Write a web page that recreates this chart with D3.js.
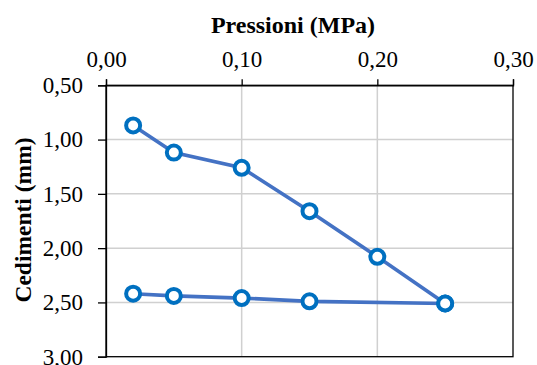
<!DOCTYPE html>
<html>
<head>
<meta charset="utf-8">
<script src="https://cdn.jsdelivr.net/npm/d3@7"></script>
<style>
  body { margin: 0; background: #fff; }
  svg text { font-family: "Liberation Serif", "Times New Roman", "DejaVu Serif", serif !important; }
</style>
</head>
<body>
<div id="chart"></div>
<script>
// data
var carico = [0.02, 0.05, 0.10, 0.15, 0.20, 0.25];
var cedCarico = [0.87, 1.12, 1.26, 1.66, 2.08, 2.51];
var scarico = [0.25, 0.15, 0.10, 0.05, 0.02];
var cedScarico = [2.51, 2.49, 2.46, 2.44, 2.42];
var xTicks = [0, 0.10, 0.20, 0.30];
var yTicks = [0.5, 1.0, 1.5, 2.0, 2.5, 3.0];

// set the dimensions
var W = 537, H = 365;
var margin = {top: 85.3, right: 24, bottom: 8.3, left: 106};
var width = W - margin.left - margin.right,
    height = H - margin.top - margin.bottom;

var fmt = function(d) { return d3.format(".2f")(d).replace(".", ","); };

var x = d3.scaleLinear().domain([0, 0.30]).range([0, width]);
var y = d3.scaleLinear().domain([0.5, 3.0]).range([0, height]);

var svg = d3.select("#chart").append("svg")
    .attr("width", W)
    .attr("height", H)
    .attr("font-family", "Liberation Serif, serif");

var g = svg.append("g")
    .attr("transform", "translate(" + margin.left + "," + margin.top + ")");

// gridlines
g.selectAll(".hgrid")
    .data(yTicks.slice(1, -1))
  .enter().append("line")
    .attr("x1", 0).attr("x2", width)
    .attr("y1", function(d) { return y(d); })
    .attr("y2", function(d) { return y(d); })
    .attr("stroke", "#d0d0d0")
    .attr("stroke-width", 1.5);

g.selectAll(".vgrid")
    .data(xTicks.slice(1, -1))
  .enter().append("line")
    .attr("y1", 0).attr("y2", height)
    .attr("x1", function(d) { return x(d); })
    .attr("x2", function(d) { return x(d); })
    .attr("stroke", "#d0d0d0")
    .attr("stroke-width", 1.5);

// frame
g.append("rect")
    .attr("width", width)
    .attr("height", height)
    .attr("fill", "none")
    .attr("stroke", "#000")
    .attr("stroke-width", 1.3);

// axes
var xAxis = g.append("g")
    .call(d3.axisTop(x).tickValues(xTicks).tickFormat(fmt).tickSize(6).tickPadding(12));
var yAxis = g.append("g")
    .call(d3.axisLeft(y).tickValues(yTicks).tickFormat(fmt).tickSize(8).tickPadding(15));

[xAxis, yAxis].forEach(function(a) {
  a.attr("font-family", null).attr("font-size", null);
  a.select(".domain").attr("stroke", "#000").attr("stroke-width", 1.3);
  a.selectAll(".tick line").attr("stroke", "#000").attr("stroke-width", 1.3);
  a.selectAll("text")
    .style("font-size", "23px")
    .attr("fill", "#000");
});

// lines
var line = d3.line()
    .x(function(d) { return x(d[0]); })
    .y(function(d) { return y(d[1]); });

var serie = [d3.zip(carico, cedCarico), d3.zip(scarico, cedScarico)];

g.selectAll(".serie")
    .data(serie)
  .enter().append("path")
    .attr("d", line)
    .attr("fill", "none")
    .attr("stroke", "#4472C4")
    .attr("stroke-width", 3.6);

serie.forEach(function(s) {
  g.selectAll(null)
      .data(s)
    .enter().append("circle")
      .attr("cx", function(d) { return x(d[0]); })
      .attr("cy", function(d) { return y(d[1]); })
      .attr("r", 7)
      .attr("fill", "#fff")
      .attr("stroke", "#0070C0")
      .attr("stroke-width", 4);
});

// titles
svg.append("text")
    .attr("x", 293)
    .attr("y", 33)
    .attr("text-anchor", "middle")
    .style("font-size", "24px")
    .style("font-weight", "bold")
    .text("Pressioni (MPa)");

svg.append("text")
    .attr("transform", "translate(31,220) rotate(-90)")
    .attr("text-anchor", "middle")
    .style("font-size", "23.5px")
    .style("font-weight", "bold")
    .text("Cedimenti (mm)");
</script>
</body>
</html>
